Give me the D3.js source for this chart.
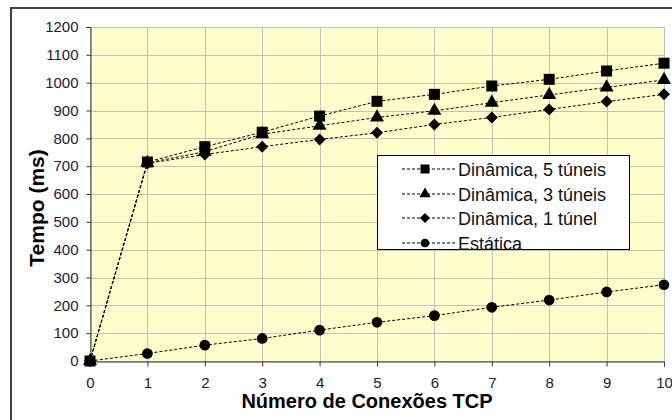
<!DOCTYPE html>
<meta charset="utf-8">
<style>
body { margin: 0; background: #fff; }
svg { display: block; font-family: Arial, "Liberation Sans", sans-serif; }
.grid line { stroke: #c0c0c0; stroke-width: 1; }
.axis text { fill: #1a1a3a; font-size: 15px; }
.serie { fill: none; stroke: #000; stroke-width: 1; stroke-dasharray: 3,2; }
</style>
<svg width="672" height="420"></svg>
<script src="https://cdn.jsdelivr.net/npm/d3@7"></script>
<script>

// dados
var conexoes = [0, 1, 2, 3, 4, 5, 6, 7, 8, 9, 10];
var din5 = [0, 715, 770, 822, 880, 933, 958, 988, 1012, 1042, 1070];
var din3 = [0, 712, 752, 815, 845, 875, 899, 928, 956, 983, 1010];
var din1 = [0, 710, 742, 770, 796, 820, 850, 875, 904, 932, 958];
var estatica = [0, 27, 57, 81, 111, 139, 163, 193, 219, 248, 274];
var yTicks = d3.range(0, 1201, 100);
var nomes = ["Dinâmica, 5 túneis", "Dinâmica, 3 túneis", "Dinâmica, 1 túnel", "Estática"];

var svg = d3.select("svg");

// borda externa
svg.append("rect")
    .attr("x", 11).attr("y", 8)
    .attr("width", 680).attr("height", 430)
    .attr("fill", "#fff")
    .attr("stroke", "#404040")
    .attr("stroke-width", 2);

var x = d3.scaleLinear().domain([0, 10]).range([90, 664]);
var y = d3.scaleLinear().domain([0, 1200]).range([361, 27]);

// fundo da area de plotagem
svg.append("rect")
    .attr("x", x(0)).attr("y", y(1200))
    .attr("width", x(10) - x(0)).attr("height", y(0) - y(1200))
    .attr("fill", "#ffffcc");

var grid = svg.append("g").attr("class", "grid");
grid.selectAll(".h").data(yTicks).enter().append("line")
    .attr("x1", x(0)).attr("x2", x(10))
    .attr("y1", function(d) { return Math.round(y(d)) + 0.5; })
    .attr("y2", function(d) { return Math.round(y(d)) + 0.5; });
grid.selectAll(".v").data(conexoes).enter().append("line")
    .attr("y1", y(0)).attr("y2", y(1200))
    .attr("x1", function(d) { return Math.round(x(d)) + 0.5; })
    .attr("x2", function(d) { return Math.round(x(d)) + 0.5; });

// eixos
var ax = svg.append("g")
    .attr("class", "axis")
    .attr("transform", "translate(0," + (Math.round(y(0)) + 0.5) + ")")
    .call(d3.axisBottom(x).tickValues(conexoes).tickSize(5).tickPadding(11).tickFormat(d3.format("d")));
var ay = svg.append("g")
    .attr("class", "axis")
    .attr("transform", "translate(" + (Math.round(x(0)) + 0.5) + ",0)")
    .call(d3.axisLeft(y).tickValues(yTicks).tickSize(4).tickPadding(8).tickFormat(d3.format("d")));
svg.selectAll(".axis .domain, .axis .tick line").attr("stroke", "#333");
svg.selectAll(".axis text").attr("font-family", null).attr("font-size", null);

// simbolo losango (quadrado girado)
var losango = {
  draw: function(ctx, size) {
    var r = Math.sqrt(size / 2);
    ctx.moveTo(0, -r); ctx.lineTo(r, 0); ctx.lineTo(0, r); ctx.lineTo(-r, 0); ctx.closePath();
  }
};

// series
var series = [
  { vals: din5, sym: d3.symbolSquare, size: 121, lsize: 81 },
  { vals: din3, sym: d3.symbolTriangle, size: 85, lsize: 55 },
  { vals: din1, sym: losango, size: 72, lsize: 50 },
  { vals: estatica, sym: d3.symbolCircle, size: 90, lsize: 60 }
];

var line = d3.line()
    .x(function(d, i) { return x(conexoes[i]); })
    .y(function(d) { return y(d); });

// desenha de baixo para cima (quadrado por cima)
series.slice().reverse().forEach(function(s) {
  svg.append("path").attr("class", "serie").attr("d", line(s.vals));
  svg.selectAll(null).data(s.vals).enter().append("path")
      .attr("d", d3.symbol().type(s.sym).size(s.size))
      .attr("transform", function(d, i) { return "translate(" + x(conexoes[i]) + "," + y(d) + ")"; })
      .attr("fill", "#000");
});

// legenda
var leg = svg.append("g").attr("transform", "translate(377,155)");
leg.append("rect")
    .attr("x", 0.5).attr("y", 0.5)
    .attr("width", 252).attr("height", 94)
    .attr("fill", "#fff").attr("stroke", "#000");
var item = leg.selectAll(".item").data(series).enter().append("g")
    .attr("transform", function(d, i) { return "translate(0," + [14, 39, 63, 88][i] + ")"; });
item.append("line")
    .attr("x1", 25).attr("x2", 79)
    .attr("stroke", "#000").attr("stroke-dasharray", "3,2");
item.append("path")
    .attr("d", function(d) { return d3.symbol().type(d.sym).size(d.lsize)(); })
    .attr("transform", "translate(48,0)");
item.append("text")
    .attr("x", 81).attr("y", 6.5)
    .attr("font-size", "18px")
    .attr("fill", "#111")
    .text(function(d, i) { return nomes[i]; });

// titulos
svg.append("text")
    .attr("x", 367).attr("y", 408)
    .attr("text-anchor", "middle")
    .attr("font-weight", "bold").attr("font-size", "20px")
    .text("Número de Conexões TCP");
svg.append("text")
    .attr("transform", "translate(44,208) rotate(-90)")
    .attr("text-anchor", "middle")
    .attr("font-weight", "bold").attr("font-size", "21px")
    .text("Tempo (ms)");
</script>
